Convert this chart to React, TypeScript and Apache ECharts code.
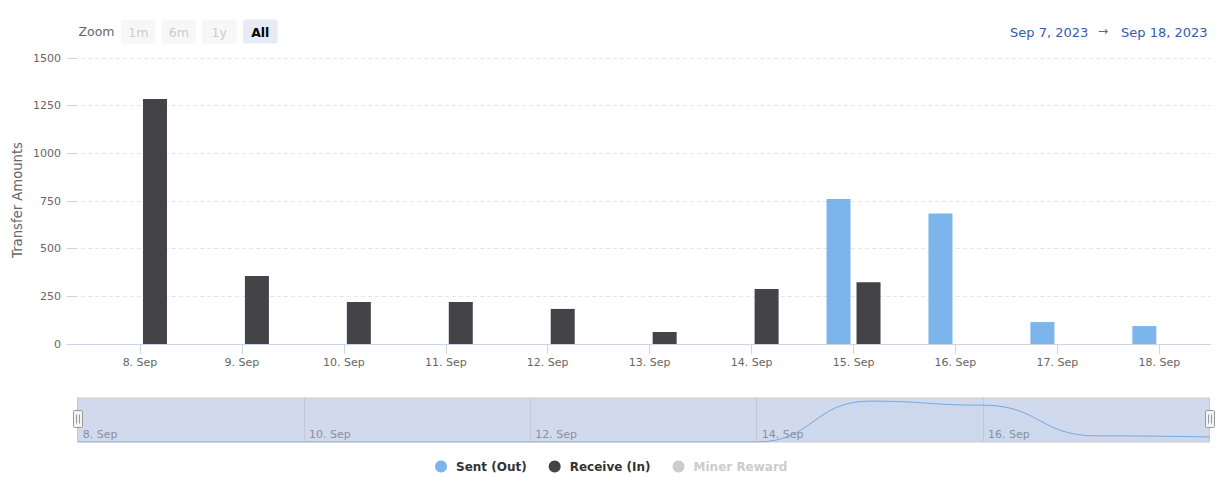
import React, { useEffect, useRef } from 'react';
import * as echarts from 'echarts';

// ---- data ----
const days = ['8. Sep', '9. Sep', '10. Sep', '11. Sep', '12. Sep', '13. Sep', '14. Sep', '15. Sep', '16. Sep', '17. Sep', '18. Sep'];
const sentOut = [0, 0, 0, 0, 0, 0, 0, 760, 685, 115, 94];
const receiveIn = [1285, 357, 220, 220, 184, 63, 288, 324, 0, 0, 0];
const minerReward: number[] = [];
const seriesNames = ['Sent (Out)', 'Receive (In)', 'Miner Reward'];
const zoomButtons = ['1m', '6m', '1y', 'All'];
const activeButton = 'All';
const rangeFrom = 'Sep 7, 2023';
const rangeTo = 'Sep 18, 2023';
const yAxisTitle = 'Transfer Amounts';

const FONT = "'DejaVu Sans', sans-serif";

export default function App() {
  const ref = useRef<HTMLDivElement>(null);

  useEffect(() => {
    if (!ref.current) return;
    const chart = echarts.init(ref.current, undefined, { renderer: 'svg' });

    const idx = days.map((_, i) => i);
    const sentData = sentOut.map((v, i) => [i, v]);
    const recvData = receiveIn.map((v, i) => [i, v]);

    const buttonX = [121, 161.5, 202, 243];
    const graphics: any[] = [
      {
        type: 'text', left: 78.5, top: 25,
        style: { text: 'Zoom', fill: '#666666', font: `12.5px ${FONT}` },
      },
    ];
    zoomButtons.forEach((b, i) => {
      const active = b === activeButton;
      graphics.push({
        type: 'rect', shape: { x: buttonX[i], y: 19.5, width: 34.5, height: 24, r: 2 },
        style: { fill: active ? '#e6ebf5' : '#f7f7f7' },
      });
      graphics.push({
        type: 'text', x: buttonX[i] + 17.25, y: 32,
        style: {
          text: b, fill: active ? '#000000' : '#cccccc',
          font: `${active ? 'bold ' : ''}12.5px ${FONT}`, align: 'center', verticalAlign: 'middle',
        },
      });
    });
    graphics.push(
      { type: 'text', x: 1010, y: 32, style: { text: rangeFrom, fill: '#335cad', font: `13px ${FONT}`, align: 'left', verticalAlign: 'middle' } },
      { type: 'text', x: 1103, y: 31, style: { text: '→', fill: '#666666', font: `12px ${FONT}`, align: 'center', verticalAlign: 'middle' } },
      { type: 'text', x: 1121, y: 32, style: { text: rangeTo, fill: '#335cad', font: `13px ${FONT}`, align: 'left', verticalAlign: 'middle' } },
      {
        type: 'text', x: 17, y: 200, rotation: Math.PI / 2,
        style: { text: yAxisTitle, fill: '#666666', font: `13.2px ${FONT}`, align: 'center', verticalAlign: 'middle' },
      },
    );
    // navigator handles
    [78, 1210].forEach((cx) => {
      graphics.push({
        type: 'rect', z: 100,
        shape: { x: cx - 4.5, y: 410.5, width: 9, height: 17, r: 1 },
        style: { fill: '#f2f2f2', stroke: '#999999', lineWidth: 1 },
      });
      graphics.push({ type: 'line', z: 101, shape: { x1: cx - 1.5, y1: 414.5, x2: cx - 1.5, y2: 423.5 }, style: { stroke: '#999999', lineWidth: 1 } });
      graphics.push({ type: 'line', z: 101, shape: { x1: cx + 1.5, y1: 414.5, x2: cx + 1.5, y2: 423.5 }, style: { stroke: '#999999', lineWidth: 1 } });
    });

    const option: any = {
      animation: false,
      backgroundColor: '#ffffff',
      textStyle: { fontFamily: FONT },
      legend: {
        data: seriesNames,
        left: 435, top: 460.5, padding: 0,
        icon: 'circle', itemWidth: 20, itemHeight: 12, itemGap: 22,
        textStyle: { fontSize: 12, fontWeight: 'bold', color: '#333333', fontFamily: FONT },
        inactiveColor: '#cccccc',
        selected: { 'Miner Reward': false },
      },
      grid: [
        { left: 67, right: 19.3, top: 58, height: 286 },
        {
          left: 77.7, right: 20.7, top: 398, height: 44, show: true,
          backgroundColor: '#d1daed', borderColor: '#cccccc', borderWidth: 1,
        },
      ],
      xAxis: [
        {
          type: 'value', gridIndex: 0, min: -0.716, max: 10.504,
          axisLine: { show: true, onZero: false, lineStyle: { color: '#ccd6eb', width: 1 } },
          axisTick: { show: true, length: 10, customValues: idx, lineStyle: { color: '#ccd6eb' } },
          axisLabel: {
            customValues: idx, color: '#666666', fontSize: 11, margin: 13,
            formatter: (v: number) => days[Math.round(v)] ?? '',
          },
          splitLine: { show: false },
        },
        {
          type: 'value', gridIndex: 1, min: 0, max: 10, interval: 2,
          axisLine: { show: false, onZero: false }, axisTick: { show: false },
          axisLabel: {
            inside: true, color: '#8a8f9c', fontSize: 11, margin: 2, align: 'left',
            padding: [0, 0, 0, 5], showMaxLabel: false,
            formatter: (v: number) => days[Math.round(v)] ?? '',
          },
          splitLine: { show: true, lineStyle: { color: '#c0c9db', width: 1 } },
        },
      ],
      yAxis: [
        {
          type: 'value', gridIndex: 0, min: 0, max: 1500, interval: 250,
          axisLine: { show: false, onZero: false },
          axisTick: { show: true, inside: true, length: 10, lineStyle: { color: '#ccd6eb' } },
          axisLabel: { color: '#666666', fontSize: 11, margin: 6, formatter: (v: number) => String(v) },
          splitLine: { show: true, lineStyle: { color: '#e6e6e6', width: 1, type: [4, 3] } },
        },
        {
          type: 'value', gridIndex: 1, min: 0, max: 818, show: false,
          axisLine: { onZero: false },
          splitLine: { show: false },
        },
      ],
      series: [
        {
          name: seriesNames[0], type: 'bar', xAxisIndex: 0, yAxisIndex: 0,
          data: sentData, barWidth: 24, barGap: '25%',
          itemStyle: { color: '#7cb5ec' },
        },
        {
          name: seriesNames[1], type: 'bar', xAxisIndex: 0, yAxisIndex: 0,
          data: recvData, barWidth: 24, barGap: '25%',
          itemStyle: { color: '#434348' },
        },
        {
          name: seriesNames[2], type: 'line', xAxisIndex: 0, yAxisIndex: 0,
          data: minerReward, showSymbol: false,
          itemStyle: { color: '#cccccc' }, lineStyle: { color: '#cccccc' },
        },
        {
          name: 'navigator', type: 'line', xAxisIndex: 1, yAxisIndex: 1,
          data: sentData, smooth: 0.5, smoothMonotone: 'x', showSymbol: false, symbol: 'none',
          lineStyle: { color: '#75a7df', width: 1 },
          areaStyle: { color: 'rgba(124,181,236,0.06)' },
          silent: true, z: 3,
        },
      ],
      graphic: graphics,
    };

    chart.setOption(option);
    return () => chart.dispose();
  }, []);

  return (
    <div
      ref={ref}
      style={{ position: 'fixed', left: 0, top: 0, width: 1230, height: 488, background: '#fff' }}
    />
  );
}
